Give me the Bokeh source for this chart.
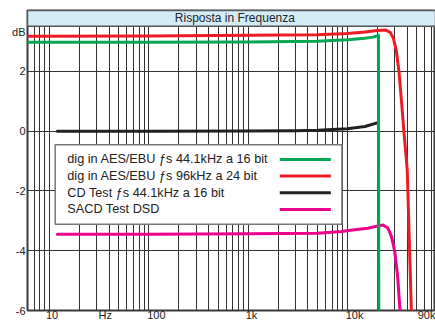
from bokeh.plotting import figure
from bokeh.models import Range1d, FixedTicker, BoxAnnotation, Label
from bokeh.core.properties import value
from bokeh.embed import file_html
from bokeh.resources import INLINE

# ---------------- data ----------------
title_text = "Risposta in Frequenza"

series_names = [
    "dig in AES/EBU \u0192s 44.1kHz a 16 bit",
    "dig in AES/EBU \u0192s 96kHz a 24 bit",
    "CD Test \u0192s 44.1kHz a 16 bit",
    "SACD Test DSD",
]
series_colors = ["#00a651", "#ed1c24", "#231f20", "#ec008c"]

green_f = [6, 100, 1000, 5000, 10000, 15000, 18000, 20000, 20500, 20700]
green_db = [2.97, 2.97, 2.98, 3.0, 3.05, 3.1, 3.14, 3.18, 3.2, -7.0]

red_f = [6, 100, 1000, 5000, 10000, 15000, 20000, 24000, 27000, 29000, 31000, 33000, 35000, 37000, 40000, 44000, 46000]
red_db = [3.17, 3.18, 3.2, 3.22, 3.26, 3.31, 3.36, 3.38, 3.3, 3.1, 2.7, 2.0, 1.0, 0.0, -1.3, -6.0, -7.5]

black_f = [12, 100, 1000, 3000, 5000, 10000, 15000, 20300]
black_db = [-0.01, -0.01, 0.0, 0.01, 0.03, 0.08, 0.15, 0.28]

magenta_f = [12, 100, 1000, 5000, 8700, 11800, 16000, 20300, 22800, 25600, 27700, 29900, 31900, 34000, 35000]
magenta_db = [-3.45, -3.45, -3.43, -3.42, -3.36, -3.30, -3.25, -3.17, -3.14, -3.25, -3.52, -4.02, -4.8, -6.1, -7.0]

# tick label positions as placed in the reference (slightly right of grid lines)
x_tick_values = [10.6, 36.4, 119, 1082, 11800, 77000]
x_tick_labels = ["10", "Hz", "100", "1k", "10k", "90k"]
y_tick_values = [-6, -4, -2, 0, 2, 3.3]
y_tick_labels = ["-6", "-4", "-2", "0", "2", "dB"]
x_grid_values = [m * 10 ** e for e in range(0, 5) for m in range(1, 10)]
y_grid_values = [-4, -2, 0, 2]

# ---------------- layout constants ----------------
X_START, X_END = 6, 77000
Y_BOTTOM, Y_DATA_TOP, Y_TOP = -6, 3.5, 4.03
FONT = "Liberation Sans"
GRID = "#333333"

p = figure(width=435, height=323, x_axis_type="log",
           x_range=Range1d(X_START, X_END), y_range=Range1d(Y_BOTTOM, Y_TOP),
           output_backend="svg", toolbar_location=None,
           min_border_left=27, min_border_right=0, min_border_top=10, min_border_bottom=10)
p.background_fill_color = "white"
p.border_fill_color = "white"
p.outline_line_color = "#3a3a3a"
p.outline_line_width = 2

# grids
p.xgrid.ticker = FixedTicker(ticks=x_grid_values)
p.ygrid.ticker = FixedTicker(ticks=y_grid_values)
for g in (p.xgrid, p.ygrid):
    g.grid_line_color = GRID
    g.grid_line_width = 1
    g.grid_line_alpha = 1

# axes
p.xaxis.ticker = FixedTicker(ticks=x_tick_values)
p.xaxis.major_label_overrides = dict(zip(x_tick_values, x_tick_labels))
p.yaxis.ticker = FixedTicker(ticks=y_tick_values)
p.yaxis.major_label_overrides = dict(zip(y_tick_values, y_tick_labels))
for ax in (p.xaxis, p.yaxis):
    ax.axis_line_color = None
    ax.major_tick_line_color = None
    ax.minor_tick_line_color = None
    ax.major_tick_out = 0
    ax.major_tick_in = 0
    ax.major_label_text_font = FONT
    ax.major_label_text_font_size = "11px"
    ax.major_label_text_color = "#222222"
p.xaxis.major_label_standoff = -2
p.yaxis.major_label_standoff = 2

# curves
curves = [(black_f, black_db, 2), (magenta_f, magenta_db, 3), (red_f, red_db, 1), (green_f, green_db, 0)]
for fx, fy, ci in curves:
    p.line(fx, fy, line_color=series_colors[ci], line_width=3, line_join="round", line_cap="round")

# title bar
p.add_layout(BoxAnnotation(bottom=Y_DATA_TOP, fill_color="#d2ecf8", fill_alpha=1,
                           line_color="#555555", line_width=1.5, line_alpha=1))
p.add_layout(Label(x=735, y=(Y_DATA_TOP + Y_TOP) / 2, text=title_text,
                   text_align="center", text_baseline="middle",
                   text_font=FONT, text_font_size="12px", text_color="#222222"))

# custom legend (text on the left, line sample on the right)
LEG_L, LEG_R, LEG_T, LEG_B = 11.4, 8800, -0.46, -3.12
LEG_TEXT_X = 15.1
LEG_LINE_X0, LEG_LINE_X1 = 2080, 6800
leg_rows = [-0.95, -1.50, -2.06, -2.62]
p.quad(left=[LEG_L], right=[LEG_R], top=[LEG_T], bottom=[LEG_B],
       fill_color="white", line_color="#777777", line_width=1.5)
p.segment(x0=[LEG_LINE_X0] * 4, x1=[LEG_LINE_X1] * 4, y0=leg_rows, y1=leg_rows,
          line_color=series_colors, line_width=3)
p.text(x=[LEG_TEXT_X] * 4, y=leg_rows, text=series_names,
       text_font=value(FONT), text_font_size=value("12.7px"), text_color="#222222",
       text_align="left", text_baseline="middle")

open("out.html", "w").write(file_html(p, INLINE))
